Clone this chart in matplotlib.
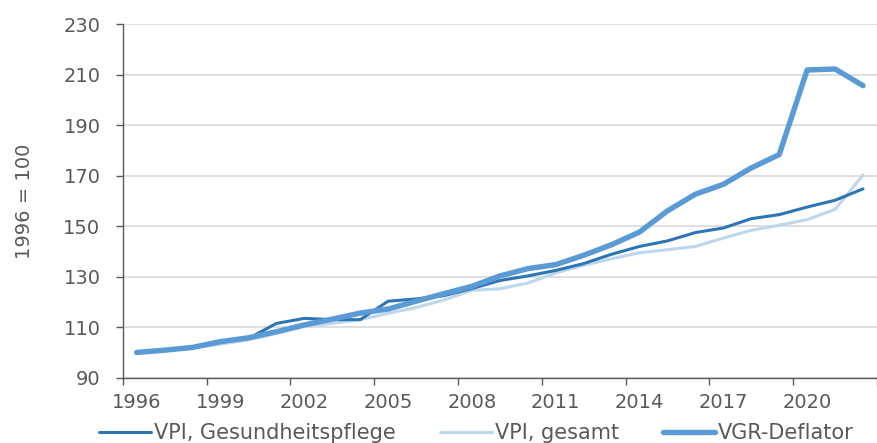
import numpy as np
import matplotlib.pyplot as plt

# Preisindizes, 1996 = 100
jahre = list(range(1996, 2023))
vpi_gesundheit = [100.0, 101.0, 102.0, 104.0, 105.5, 111.5, 113.5, 113.0, 113.0, 120.3, 121.2, 122.5,
                  125.3, 128.5, 130.3, 132.5, 135.2, 138.9, 142.0, 144.2, 147.5, 149.3, 153.0, 154.6,
                  157.6, 160.3, 164.8]
vpi_gesamt = [100.0, 101.0, 101.8, 103.3, 105.0, 107.5, 110.3, 111.5, 113.0, 115.5, 117.8, 120.8,
              124.6, 125.2, 127.5, 131.5, 134.5, 137.1, 139.5, 140.7, 142.0, 145.3, 148.4, 150.4,
              152.6, 156.7, 170.3]
vgr_deflator = [100.0, 100.9, 102.0, 104.3, 105.8, 108.2, 110.9, 113.2, 115.6, 117.2, 120.3, 123.3,
                126.2, 130.3, 133.2, 134.8, 138.5, 142.7, 147.7, 156.1, 162.7, 166.6, 173.1, 178.4,
                211.9, 212.3, 205.7]

plt.rcParams['font.family'] = ['DejaVu Sans']
grau = '#595959'
fs = 14

fig = plt.figure(figsize=(8.77, 4.43), dpi=100)
ax = fig.add_axes([122.7 / 877, 65.3 / 443, 1 - 122.7 / 877, 353.4 / 443])

x = np.arange(len(jahre))
ax.plot(x, vpi_gesundheit, color='#2E75B6', lw=2.2, label='VPI, Gesundheitspflege',
        solid_capstyle='round', zorder=3)
ax.plot(x, vpi_gesamt, color='#BDD7EE', lw=2.2, label='VPI, gesamt',
        solid_capstyle='round', zorder=2)
ax.plot(x, vgr_deflator, color='#5B9BD5', lw=3.9, label='VGR-Deflator',
        solid_capstyle='round', zorder=4)

ax.set_xlim(-0.5, -0.5 + (877 - 122.7) / 28.1)
ax.set_ylim(90, 230)
ax.set_yticks(np.arange(90, 231, 20))

# Kategorienachse: Striche zwischen den Jahren, Beschriftung mittig
ax.set_xticks(np.arange(-0.5, len(jahre), 3))
ax.set_xticklabels([])
ax.set_xticks(x[::3], minor=True)
ax.set_xticklabels([str(j) for j in jahre[::3]], minor=True)
ax.tick_params(axis='x', which='major', length=5, width=1, color=grau, direction='out')
ax.tick_params(axis='x', which='minor', length=0, pad=11, labelsize=fs, labelcolor=grau)
ax.tick_params(axis='y', length=5, width=1, color=grau, pad=11, labelsize=fs, labelcolor=grau)

ax.grid(axis='y', color='#D9D9D9', lw=1.2)
ax.set_axisbelow(True)
for s in ['top', 'right']:
    ax.spines[s].set_visible(False)
for s in ['left', 'bottom']:
    ax.spines[s].set_color(grau)
    ax.spines[s].set_linewidth(1.0)
    ax.spines[s].set_zorder(5)

ax.set_ylabel('1996 = 100', fontsize=fs, color=grau)
ax.yaxis.set_label_coords(-0.118, 0.5)

fig.legend(loc='center', bbox_to_anchor=(0.543, 0.022), ncol=3, frameon=False,
           fontsize=15, labelcolor=grau, handlelength=2.5, handletextpad=0.15,
           columnspacing=2.1)

fig.savefig('out.png', dpi=100)
